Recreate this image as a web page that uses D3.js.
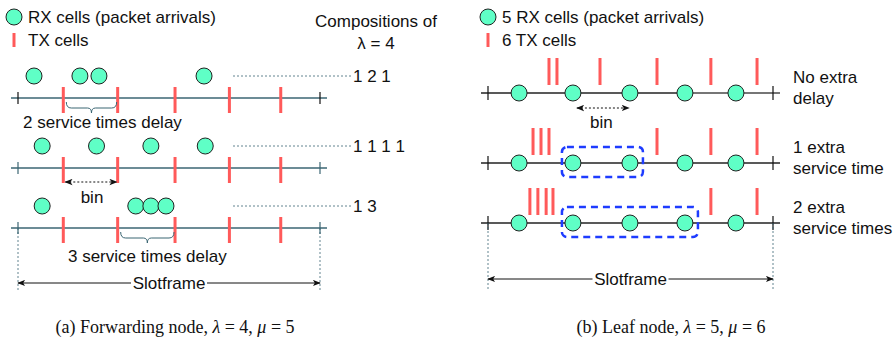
<!DOCTYPE html>
<html>
<head>
<meta charset="utf-8">
<script src="https://cdn.jsdelivr.net/npm/d3@7"></script>
<style>
  body { margin: 0; background: #fff; }
  svg { display: block; }
  text { font-family: "Liberation Sans", Arial, sans-serif; font-size: 17px; fill: #111; }
  text.cap { font-family: "Liberation Serif", "DejaVu Serif", serif; font-size: 18px; }
</style>
</head>
<body>
<svg id="chart" width="896" height="344"></svg>
<script>
// ---- data (positions are % of one slotframe) ----
const fwdTx = [15, 33, 52, 70, 87];
const fwdRx = [[5.3, 20.5, 26.8, 61.6], [8, 26, 44, 62], [8, 39, 44, 49]];
const fwdCompositions = ["1 2 1", "1 1 1 1", "1 3"];
const fwdDelays = [
  { row: 0, from: 0, to: 1, label: "2 service times delay" },
  { row: 2, from: 1, to: 2, label: "3 service times delay" }
];

const leafRx = [10.9, 29.8, 49.8, 69.1, 87];
const leafTx = [
  [21.4, 24.2, 39.3, 59.3, 78.2, 94.4],
  [15.8, 18.6, 21.4, 59.3, 78.2, 94.4],
  [14.7, 17.5, 20.4, 22.8, 78.2, 94.4]
];
const leafLabels = [["No extra", "delay"], ["1 extra", "service time"], ["2 extra", "service times"]];
const leafBoxes = [null, [1, 2], [1, 3]];

// ---- setup ----
const svg = d3.select("#chart");
const rxFill = "#5fffc6", red = "#ff5a5a", teal = "#3b6673", blue = "#1e3cff";

const defs = svg.append("defs");
defs.append("marker").attr("id", "ah")
  .attr("viewBox", "0 0 10 8").attr("refX", 9).attr("refY", 4)
  .attr("markerWidth", 8).attr("markerHeight", 7).attr("markerUnits", "userSpaceOnUse")
  .attr("orient", "auto-start-reverse")
  .append("path").attr("d", "M0,0 L10,4 L0,8 L2.5,4 z").attr("fill", "#111");

function dimArrow(g, x1, x2, y, dash) {
  g.append("line").attr("x1", x1).attr("x2", x2).attr("y1", y).attr("y2", y)
    .attr("stroke", "#111").attr("stroke-width", 1)
    .attr("stroke-dasharray", dash || null)
    .attr("marker-start", "url(#ah)").attr("marker-end", "url(#ah)");
}

function brace(g, x1, x2, y) {
  const m = (x1 + x2) / 2;
  g.append("path")
    .attr("d", `M${x1},${y} q0,6 5,6 H${m - 4} q4,0 4,5 q0,-5 4,-5 H${x2 - 5} q5,0 5,-6`)
    .attr("fill", "none").attr("stroke", teal).attr("stroke-width", 1);
}

function legend(g, x, rxText, txText) {
  g.append("circle").attr("cx", x).attr("cy", 17).attr("r", 8)
    .attr("fill", rxFill).attr("stroke", "#222");
  g.append("text").attr("x", x + 14).attr("y", 23).text(rxText);
  g.append("line").attr("x1", x).attr("x2", x).attr("y1", 33).attr("y2", 47)
    .attr("stroke", red).attr("stroke-width", 3);
  g.append("text").attr("x", x + 14).attr("y", 46).text(txText);
}

// ================= (a) Forwarding node =================
const ga = svg.append("g");
const xa = d3.scaleLinear().domain([0, 100]).range([18, 320]);
const rowsA = [98, 168, 228];

legend(ga, 14, "RX cells (packet arrivals)", "TX cells");
ga.append("text").attr("x", 376).attr("y", 27).attr("text-anchor", "middle").text("Compositions of");
ga.append("text").attr("x", 376).attr("y", 49).attr("text-anchor", "middle").text("λ = 4");

rowsA.forEach((y, i) => {
  const row = ga.append("g");
  row.append("line").attr("x1", xa(0) - 7).attr("x2", xa(100) + 7).attr("y1", y).attr("y2", y)
    .attr("stroke", teal).attr("stroke-width", 1.3);
  row.selectAll("line.tick").data([0, 100]).join("line").attr("class", "tick")
    .attr("x1", d => xa(d)).attr("x2", d => xa(d)).attr("y1", y - 6).attr("y2", y + 6)
    .attr("stroke", i === 0 ? "#111" : teal).attr("stroke-width", 1.2);
  row.selectAll("line.tx").data(fwdTx).join("line").attr("class", "tx")
    .attr("x1", d => xa(d)).attr("x2", d => xa(d)).attr("y1", y - 11).attr("y2", y + 15)
    .attr("stroke", red).attr("stroke-width", 3);
  const cy = y - 22;
  row.append("line").attr("x1", 233).attr("x2", 351).attr("y1", cy).attr("y2", cy)
    .attr("stroke", teal).attr("stroke-width", 0.8).attr("stroke-dasharray", "2,2");
  row.append("text").attr("x", 353).attr("y", cy + 6).text(fwdCompositions[i]);
  row.selectAll("circle").data(fwdRx[i]).join("circle")
    .attr("cx", d => xa(d)).attr("cy", cy).attr("r", 8)
    .attr("fill", rxFill).attr("stroke", "#222");
});

fwdDelays.forEach(d => {
  const y = rowsA[d.row];
  const x1 = xa(fwdTx[d.from]) + 3, x2 = xa(fwdTx[d.to]) - 1;
  brace(ga, x1, x2, y + 4);
  ga.append("text").attr("x", (x1 + x2) / 2 + (d.row === 0 ? 11 : 0)).attr("y", y + (d.row === 0 ? 30 : 34))
    .attr("text-anchor", "middle").text(d.label);
});

// bin arrow on row 2
dimArrow(ga, xa(fwdTx[0]) + 2, xa(fwdTx[1]) - 1, rowsA[1] + 14, "2,2");
ga.append("text").attr("x", 92).attr("y", rowsA[1] + 35).attr("text-anchor", "middle").text("bin");

// slotframe
[0, 100].forEach(d => ga.append("line").attr("x1", xa(d)).attr("x2", xa(d))
  .attr("y1", rowsA[2]).attr("y2", 290).attr("stroke", teal).attr("stroke-width", 0.8)
  .attr("stroke-dasharray", "2,2"));
dimArrow(ga, xa(0), xa(100), 283);
ga.append("rect").attr("x", xa(50) - 38).attr("y", 274).attr("width", 76).attr("height", 18).attr("fill", "#fff");
ga.append("text").attr("x", xa(50)).attr("y", 289).attr("text-anchor", "middle").text("Slotframe");

// ================= (b) Leaf node =================
const gb = svg.append("g");
const xb = d3.scaleLinear().domain([0, 100]).range([488, 773]);
const rowsB = [93, 163, 223];

legend(gb, 488, "5 RX cells (packet arrivals)", "6 TX cells");

rowsB.forEach((y, i) => {
  const row = gb.append("g");
  row.append("line").attr("x1", xb(0) - 7).attr("x2", xb(100) + 7).attr("y1", y).attr("y2", y)
    .attr("stroke", "#222").attr("stroke-width", 1.3);
  if (i === 0) {
    row.append("line").attr("x1", xb(leafRx[3])).attr("x2", xb(100) + 7).attr("y1", y).attr("y2", y)
      .attr("stroke", "#808080").attr("stroke-width", 1.3);
  }
  row.selectAll("line.tick").data([0, 100]).join("line").attr("class", "tick")
    .attr("x1", d => xb(d)).attr("x2", d => xb(d)).attr("y1", y - 7).attr("y2", y + 7)
    .attr("stroke", "#111").attr("stroke-width", 1.2);
  row.selectAll("line.tx").data(leafTx[i]).join("line").attr("class", "tx")
    .attr("x1", d => xb(d)).attr("x2", d => xb(d)).attr("y1", y - 35).attr("y2", y - 8)
    .attr("stroke", red).attr("stroke-width", 3);
  row.selectAll("circle").data(leafRx).join("circle")
    .attr("cx", d => xb(d)).attr("cy", y).attr("r", 8)
    .attr("fill", rxFill).attr("stroke", "#222");
  const box = leafBoxes[i];
  if (box) {
    const x1 = xb(leafRx[box[0]]) - 11, x2 = xb(leafRx[box[1]]) + 13;
    row.append("rect").attr("x", x1).attr("y", y - 16).attr("width", x2 - x1).attr("height", 30)
      .attr("rx", 5).attr("fill", "none").attr("stroke", blue).attr("stroke-width", 2.5)
      .attr("stroke-dasharray", "7,5");
  }
  row.append("text").attr("x", 793).attr("y", y - 10).text(leafLabels[i][0]);
  row.append("text").attr("x", 793).attr("y", y + 11).text(leafLabels[i][1]);
});

dimArrow(gb, xb(leafRx[1]) + 4, xb(leafRx[2]) - 1, rowsB[0] + 15, "2,2");
gb.append("text").attr("x", xb((leafRx[1] + leafRx[2]) / 2)).attr("y", rowsB[0] + 35)
  .attr("text-anchor", "middle").text("bin");

[0, 100].forEach(d => gb.append("line").attr("x1", xb(d)).attr("x2", xb(d))
  .attr("y1", rowsB[2]).attr("y2", 290).attr("stroke", teal).attr("stroke-width", 0.8)
  .attr("stroke-dasharray", "2,2"));
dimArrow(gb, xb(0), xb(100), 279);
gb.append("rect").attr("x", xb(50) - 38).attr("y", 270).attr("width", 76).attr("height", 18).attr("fill", "#fff");
gb.append("text").attr("x", xb(50)).attr("y", 285).attr("text-anchor", "middle").text("Slotframe");

// ================= captions =================
function caption(x, parts) {
  const t = svg.append("text").attr("class", "cap").attr("x", x).attr("y", 333).attr("text-anchor", "middle");
  parts.forEach(p => t.append("tspan").style("font-style", p[1] ? "italic" : null).text(p[0]));
}
caption(175, [["(a) Forwarding node, ", false], ["λ", true], [" = 4, ", false], ["μ", true], [" = 5", false]]);
caption(671, [["(b) Leaf node, ", false], ["λ", true], [" = 5, ", false], ["μ", true], [" = 6", false]]);
</script>
</body>
</html>
